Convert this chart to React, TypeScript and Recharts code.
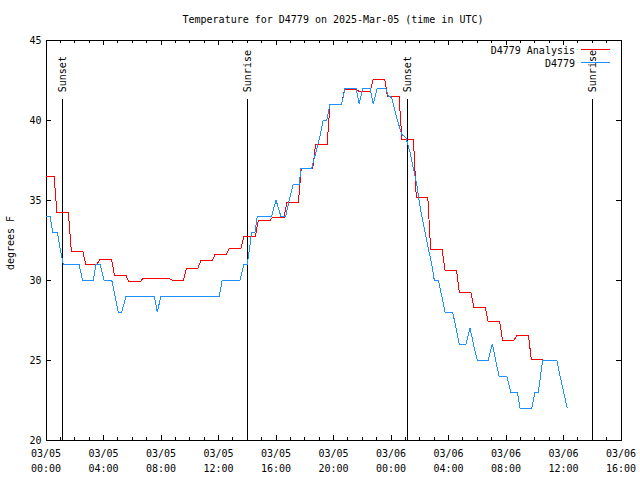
import React from "react";
import { LineChart, Line, XAxis, YAxis, ReferenceLine, ReferenceArea, Customized } from "recharts";

const FONT = "'DejaVu Sans Mono', monospace";
const W = 640;
const H = 480;
// plot box
const LEFT = 46;
const TOP = 40;
const BOTTOM = 440;

const title = "Temperature for D4779 on 2025-Mar-05 (time in UTC)";
const yLabel = "degrees F";
const seriesNames = ["D4779 Analysis", "D4779"];
const seriesColors = ["#ff0000", "#1e90ff"];

// analysis: one value per hour starting 03/05 00:00 UTC
const analysisTemps = [
  36.5, 34.2, 31.8, 31.0, 31.3, 30.3, 29.9, 30.1, 30.1, 30.0, 30.7, 31.2, 31.6, 32.0, 32.7, 33.7, 33.9, 34.85,
  37.0, 38.5, 41.0, 41.9, 41.8, 42.55, 41.45, 38.8, 35.15, 31.9, 30.6, 29.2, 28.3, 27.4, 26.25, 26.55, 25.05,
];

// station obs (hours since 03/05 00:00 UTC)
const obsTimes = [
  0, 0.28, 0.47, 0.79, 0.97, 1.2, 2.3, 2.53, 3.29, 3.48, 3.76, 4.03, 4.57, 4.8, 5.03, 5.27, 5.57, 7.53, 7.74, 8.0,
  12.06, 12.26, 13.5, 13.77, 14.0, 14.16, 14.31, 14.54, 14.7, 15.7, 16.0, 16.33, 16.68, 16.92, 17.2, 17.62, 17.74,
  18.48, 18.78, 19.06, 19.29, 19.53, 19.76, 20.57, 20.8, 21.57, 21.79, 22.03, 22.54, 22.77, 23.05, 23.63, 23.81,
  24.05, 24.35, 24.51, 24.74, 25.04, 25.32, 25.55, 25.79, 25.95, 26.14, 26.37, 26.59, 26.83, 27.01, 27.29, 27.53,
  27.76, 28.29, 28.52, 28.75, 29.22, 29.5, 29.73, 30.0, 30.77, 31.05, 31.28, 31.51, 32.05, 32.33, 32.79, 32.97,
  33.79, 34.02, 34.25, 34.4, 34.55, 35.53, 35.76, 36.01, 36.26,
];
const obsTemps = [
  34, 34, 33, 33, 32, 31, 31, 30, 30, 31, 31, 30, 30, 29, 28, 28, 29, 29, 28, 29,
  29, 30, 30, 31, 31, 32, 33, 33, 34, 34, 35, 34, 34, 35, 36, 36, 37,
  37, 38, 39, 40, 40, 41, 41, 42, 42, 41, 42, 42, 41, 42, 42, 41.5,
  41.4, 40.3, 39.8, 39.1, 38.9, 38, 37, 36, 35, 34, 33, 32, 31, 30, 30, 29,
  28, 28, 27, 26, 26, 27, 26, 25, 25, 26, 25, 24, 24, 23, 23, 22,
  22, 23, 23, 24, 25, 25, 24, 23, 22,
];

const sunEvents = ["Sunset", "Sunrise", "Sunset", "Sunrise"];
const sunTimes = [1.13, 14.0, 25.13, 38.0];
const SUN_LINE_TOP = 41.3;

const xTickDates = ["03/05", "03/05", "03/05", "03/05", "03/05", "03/05", "03/06", "03/06", "03/06", "03/06", "03/06"];
const xTickTimes = ["00:00", "04:00", "08:00", "12:00", "16:00", "20:00", "00:00", "04:00", "08:00", "12:00", "16:00"];
const hourTicks = Array.from({ length: 41 }, (_, i) => i);
const yTicks = [20, 25, 30, 35, 40, 45];

// each hourly analysis value holds from about hh-0:15 to hh+0:35
const analysisData = analysisTemps.flatMap((v, h) => [
  { t: Math.max(0, h - 0.24), v },
  { t: h + 0.56, v },
]);
const obsData = obsTimes.map((t, i) => ({ t, v: obsTemps[i] }));

function XTick(props: any) {
  const { x, payload } = props;
  const h = payload.value as number;
  const major = h % 4 === 0;
  const len = major ? 5 : 3;
  const i = h / 4;
  return (
    <g>
      {h > 0 && h < 40 && (
        <>
          <line x1={x} x2={x} y1={BOTTOM} y2={BOTTOM - len} stroke="#000" shapeRendering="crispEdges" />
          <line x1={x} x2={x} y1={TOP} y2={TOP + len} stroke="#000" shapeRendering="crispEdges" />
        </>
      )}
      {major && (
        <text x={x} y={BOTTOM + 17} textAnchor="middle" fontFamily={FONT} fontSize={10} fill="#000">
          <tspan x={x}>{xTickDates[i]}</tspan>
          <tspan x={x} dy={15}>{xTickTimes[i]}</tspan>
        </text>
      )}
    </g>
  );
}

function YTick(props: any) {
  const { y, payload } = props;
  const v = payload.value as number;
  return (
    <g>
      {v > 20 && v < 45 && (
        <>
          <line x1={LEFT} x2={LEFT + 5} y1={y} y2={y} stroke="#000" shapeRendering="crispEdges" />
          <line x1={W - 19 - 5} x2={W - 19} y1={y} y2={y} stroke="#000" shapeRendering="crispEdges" />
        </>
      )}
      <text x={41.5} y={y} dy={3.5} textAnchor="end" fontFamily={FONT} fontSize={10} fill="#000">
        {v}
      </text>
    </g>
  );
}

function sunLabel(props: any, text: string) {
  const vb = props.viewBox || {};
  const x = vb.x ?? vb.x1;
  const y = vb.y ?? Math.min(vb.y1, vb.y2);
  const lx = x + 3.5;
  const ly = y - 7;
  return (
    <text x={lx} y={ly} transform={`rotate(-90 ${lx} ${ly})`} textAnchor="start" fontFamily={FONT} fontSize={10} fill="#000">
      {text}
    </text>
  );
}

const Overlay = () => (
  <g fontFamily={FONT} fontSize={10} fill="#000">
    <text x={333} y={22.5} textAnchor="middle">{title}</text>
    <text x={13.5} y={243} transform="rotate(-90 13.5 243)" textAnchor="middle">{yLabel}</text>
    {seriesNames.map((name, i) => (
      <g key={name}>
        <text x={575} y={53.5 + 13 * i} textAnchor="end">{name}</text>
        <line x1={581} x2={610} y1={49.5 + 13 * i} y2={49.5 + 13 * i} stroke={seriesColors[i]} strokeWidth={1} shapeRendering="crispEdges" />
      </g>
    ))}
  </g>
);

export default function App() {
  return (
    <div style={{ position: "absolute", left: 0, top: 0, width: W, height: H, background: "#fff" }}>
      <LineChart width={W} height={H} margin={{ top: TOP, right: 19, bottom: 0, left: 0 }}>
        <XAxis
          dataKey="t"
          type="number"
          domain={[0, 40]}
          ticks={hourTicks}
          interval={0}
          height={40}
          tickLine={false}
          axisLine={false}
          tickSize={0}
          tickMargin={0}
          tick={(p: any) => <XTick {...p} />}
        />
        <YAxis
          type="number"
          domain={[20, 45]}
          ticks={yTicks}
          interval={0}
          width={46}
          tickLine={false}
          axisLine={false}
          tickSize={0}
          tickMargin={0}
          tick={(p: any) => <YTick {...p} />}
        />
        <ReferenceArea x1={0} x2={40} y1={20} y2={45} fill="none" fillOpacity={0} stroke="#000" strokeWidth={1} shapeRendering="crispEdges" />
        {sunTimes.map((t, i) => (
          <ReferenceLine
            key={i}
            segment={[{ x: t, y: SUN_LINE_TOP }, { x: t, y: 20 }]}
            stroke="#000"
            strokeWidth={1}
            shapeRendering="crispEdges"
            label={(p: any) => sunLabel(p, sunEvents[i])}
          />
        ))}
        <Line
          data={analysisData}
          dataKey="v"
          name={seriesNames[0]}
          type="linear"
          stroke={seriesColors[0]}
          strokeWidth={1}
          shapeRendering="crispEdges"
          dot={false}
          activeDot={false}
          isAnimationActive={false}
        />
        <Line
          data={obsData}
          dataKey="v"
          name={seriesNames[1]}
          type="linear"
          stroke={seriesColors[1]}
          strokeWidth={1}
          shapeRendering="crispEdges"
          dot={false}
          activeDot={false}
          isAnimationActive={false}
        />
        <Customized component={Overlay} />
      </LineChart>
    </div>
  );
}
